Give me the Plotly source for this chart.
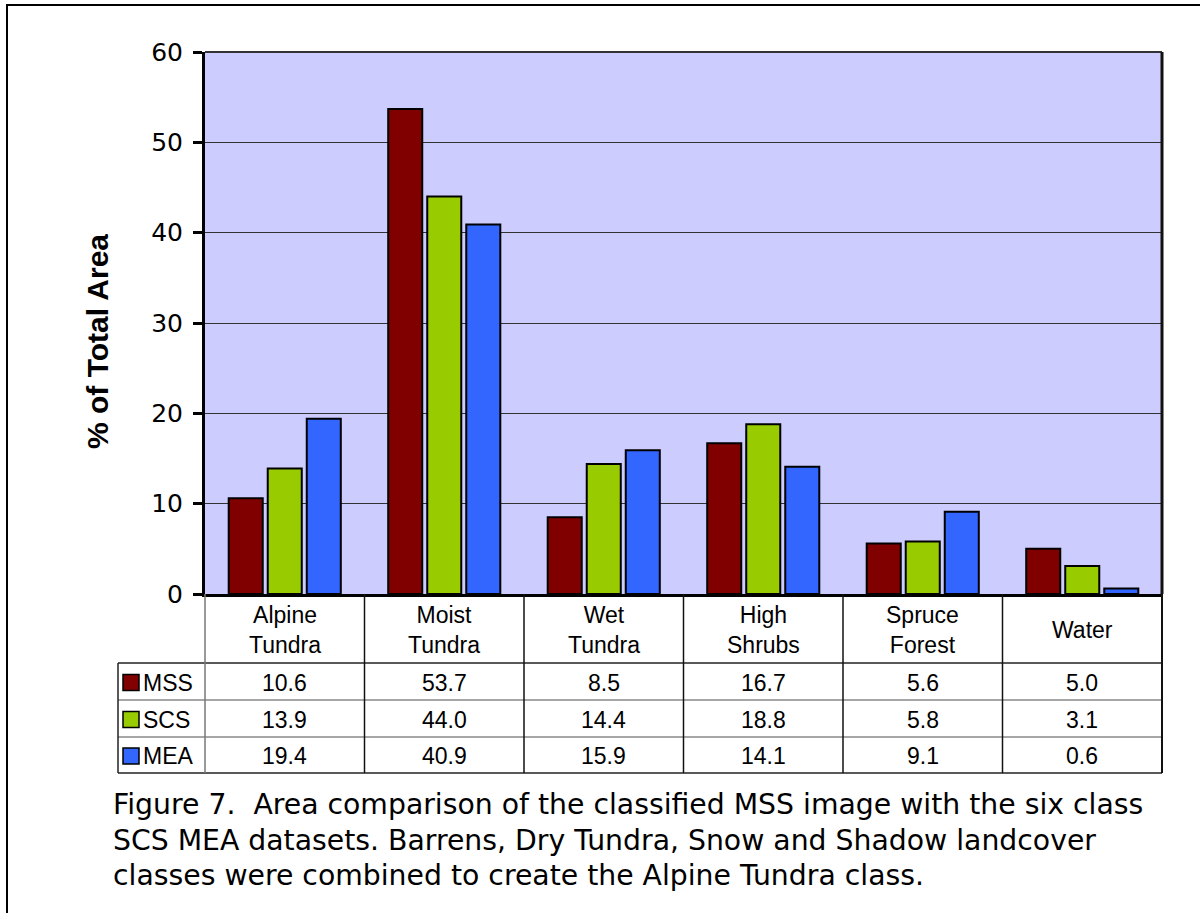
import plotly.graph_objects as go

# Land-cover classes and area shares (% of total area) per dataset
categories = ["Alpine<br>Tundra", "Moist<br>Tundra", "Wet<br>Tundra",
              "High<br>Shrubs", "Spruce<br>Forest", "Water"]
series_names = ["MSS", "SCS", "MEA"]
mss = [10.6, 53.7, 8.5, 16.7, 5.6, 5.0]
scs = [13.9, 44.0, 14.4, 18.8, 5.8, 3.1]
mea = [19.4, 40.9, 15.9, 14.1, 9.1, 0.6]
y_ticks = [0, 10, 20, 30, 40, 50, 60]
caption_lines = [
    "Figure 7.\u00a0\u00a0Area comparison of the classified MSS image with the six class",
    "SCS MEA datasets. Barrens, Dry Tundra, Snow and Shadow landcover",
    "classes were combined to create the Alpine Tundra class.",
]

colors = ["#800000", "#99CC00", "#3366FF"]
series_values = [mss, scs, mea]

FONT = "Arial, 'Liberation Sans', sans-serif"
WIDE = "'DejaVu Sans', Verdana, sans-serif"
W, H = 1200, 913
L, R, T, B = 205, 1162, 52, 594  # plot-area edges in pixels


def px(x):
    return (x - L) / (R - L)


def py(y):
    return (B - y) / (B - T)


xs = list(range(len(categories)))

fig = go.Figure()
for name, vals, col in zip(series_names, series_values, colors):
    fig.add_trace(go.Bar(
        x=xs, y=vals, name=name,
        marker=dict(color=col, line=dict(color="black", width=2)),
        showlegend=False,
    ))

shapes = []
annotations = []

# outer frame
shapes.append(dict(type="rect", xref="paper", yref="paper",
                   x0=px(7), x1=px(1215), y0=py(5), y1=py(930),
                   line=dict(color="black", width=2), layer="below"))
# plot-area top and right border
shapes.append(dict(type="line", xref="paper", yref="paper",
                   x0=0, x1=1, y0=1, y1=1, line=dict(color="#333333", width=2)))
shapes.append(dict(type="line", xref="paper", yref="paper",
                   x0=1, x1=1, y0=0, y1=1, line=dict(color="#111111", width=3)))

# data table below the axis
row_tops = [663, 700, 737]
row_bottom = 773
table_left = 118
shapes.append(dict(type="line", xref="paper", yref="paper",
                   x0=px(table_left), x1=1, y0=py(663), y1=py(663),
                   line=dict(color="#222222", width=1.5)))
for yy in (700, 737):
    shapes.append(dict(type="line", xref="paper", yref="paper",
                       x0=px(table_left), x1=1, y0=py(yy), y1=py(yy),
                       line=dict(color="#888888", width=1.5)))
shapes.append(dict(type="line", xref="paper", yref="paper",
                   x0=px(table_left), x1=1, y0=py(row_bottom), y1=py(row_bottom),
                   line=dict(color="#222222", width=1.5)))
shapes.append(dict(type="line", xref="paper", yref="paper",
                   x0=px(table_left), x1=px(table_left), y0=py(663), y1=py(row_bottom),
                   line=dict(color="#222222", width=1.5)))
shapes.append(dict(type="line", xref="paper", yref="paper",
                   x0=0, x1=0, y0=0, y1=py(row_bottom),
                   line=dict(color="#777777", width=1.5)))
for i in range(1, len(categories)):
    shapes.append(dict(type="line", xref="x", yref="paper",
                       x0=i - 0.5, x1=i - 0.5, y0=0, y1=py(row_bottom),
                       line=dict(color="#111111", width=1.5)))
shapes.append(dict(type="line", xref="paper", yref="paper",
                   x0=1, x1=1, y0=0, y1=py(row_bottom),
                   line=dict(color="#111111", width=2)))

# category header row
for i, c in enumerate(categories):
    annotations.append(dict(x=i, y=py((B + 663) / 2 + 1), xref="x", yref="paper",
                            text=c, showarrow=False,
                            font=dict(family=FONT, size=23, color="black"),
                            xanchor="center", yanchor="middle"))

# value rows with legend keys
for r, (name, vals, col) in enumerate(zip(series_names, series_values, colors)):
    top = row_tops[r]
    bot = row_tops[r + 1] if r + 1 < len(row_tops) else row_bottom
    cy = (top + bot) / 2 + 1
    shapes.append(dict(type="rect", xref="paper", yref="paper",
                       x0=px(123), x1=px(139), y0=py(cy + 8), y1=py(cy - 8),
                       fillcolor=col, line=dict(color="black", width=1.5)))
    annotations.append(dict(x=px(141), y=py(cy), xref="paper", yref="paper",
                            text=name, showarrow=False,
                            font=dict(family=FONT, size=23, color="black"),
                            xanchor="left", yanchor="middle"))
    for i, v in enumerate(vals):
        annotations.append(dict(x=i, y=py(cy), xref="x", yref="paper",
                                text=f"{v:.1f}", showarrow=False,
                                font=dict(family=FONT, size=23, color="black"),
                                xanchor="center", yanchor="middle"))

# y-axis title
annotations.append(dict(x=px(97), y=py(342), xref="paper", yref="paper",
                        text="<b>% of Total Area</b>", textangle=-90, showarrow=False,
                        font=dict(family=FONT, size=30, color="black"),
                        xanchor="center", yanchor="middle"))

# caption, one annotation per line
for k, line in enumerate(caption_lines):
    annotations.append(dict(x=px(111), y=py(804 + 36 * k), xref="paper", yref="paper",
                            text=line, showarrow=False, align="left",
                            font=dict(family=WIDE, size=28.3, color="black"),
                            xanchor="left", yanchor="middle"))

fig.update_layout(
    width=W, height=H,
    margin=dict(l=L, r=W - R, t=T, b=H - B, pad=0),
    paper_bgcolor="white",
    plot_bgcolor="#CCCCFF",
    barmode="group",
    bargap=0.266,
    bargroupgap=0.128,
    font=dict(family=FONT, color="black"),
    shapes=shapes,
    annotations=annotations,
    xaxis=dict(
        range=[-0.5, len(categories) - 0.5],
        showticklabels=False, ticks="", showgrid=False, zeroline=False,
        showline=True, linecolor="black", linewidth=3,
    ),
    yaxis=dict(
        range=[0, 60], tickvals=y_ticks,
        ticks="outside", ticklen=9, tickwidth=3, tickcolor="black",
        tickfont=dict(family=WIDE, size=25, color="black"),
        showgrid=True, gridcolor="#333333", gridwidth=1,
        zeroline=False, showline=True, linecolor="black", linewidth=3,
        ticklabelstandoff=5,
    ),
)

fig.write_html("out.html")
